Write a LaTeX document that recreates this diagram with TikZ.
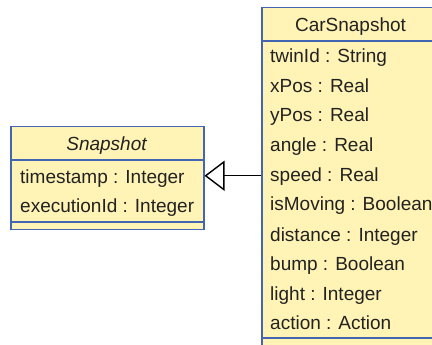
\documentclass[tikz,border=0pt]{standalone}
\usepackage{fontspec}
\setmainfont{Liberation Sans}
\usetikzlibrary{arrows.meta}
\definecolor{nenlop}{RGB}{255,243,181}
\definecolor{vienlop}{RGB}{68,102,178}
\definecolor{mauchu}{RGB}{34,34,34}
\begin{document}
\begin{tikzpicture}[
			% styles for the class boxes
			hop/.style={rectangle, draw=vienlop, fill=nenlop, line width=1.5pt, inner sep=0pt, anchor=north west}, % class box
			vach/.style={draw=vienlop, line width=1.5pt}, % compartment divider
			thuoctinh/.style={text=mauchu, anchor=base west, inner sep=0pt}, % attribute line
			tenlop/.style={text=mauchu, anchor=base, inner sep=0pt}, % class name
			kethua/.style={-{Triangle[open, length=20pt, width=30pt]}, line width=1.4pt} % generalization
			,x=1pt,y=-1pt,font=\fontsize{19}{22}\selectfont]
			\useasboundingbox (0,0) rectangle (432,345);
			\clip (0,0) rectangle (432,345);

			% the two classes
			\node[hop, minimum width=193pt, minimum height=103pt] (snap) at (10,126) {};
			\node[hop, minimum width=179pt, minimum height=380pt] (car) at (261,7) {};

			% compartments
			\draw[vach] (snap.west |- 0,160) -- (snap.east |- 0,160);
			\draw[vach] (snap.west |- 0,222) -- (snap.east |- 0,222);
			\draw[vach] (car.west |- 0,41) -- (car.east |- 0,41);
			\draw[vach] (car.west |- 0,338) -- (car.east |- 0,338);

			% Snapshot
			\node[tenlop, font=\fontsize{19}{22}\selectfont\itshape] (snapten) at (106.5,151) {Snapshot};
			\node[thuoctinh] (timestamp) at (20,183) {timestamp : Integer};
			\node[thuoctinh] (execid) at (20,212) {executionId : Integer};

			% CarSnapshot
			\node[tenlop] (carten) at (350.5,32) {CarSnapshot};
			\node[thuoctinh] (twinid) at (270,63) {twinId : String};
			\node[thuoctinh] (xpos) at (270,93) {xPos : Real};
			\node[thuoctinh] (ypos) at (270,122) {yPos : Real};
			\node[thuoctinh] (angle) at (270,152) {angle : Real};
			\node[thuoctinh] (speed) at (270,182) {speed : Real};
			\node[thuoctinh] (ismoving) at (270,211) {isMoving : Boolean};
			\node[thuoctinh] (distance) at (270,241) {distance : Integer};
			\node[thuoctinh] (bump) at (270,271) {bump : Boolean};
			\node[thuoctinh] (light) at (270,301) {light : Integer};
			\node[thuoctinh] (action) at (270,330) {action : Action};

			% CarSnapshot is a Snapshot
			\coordinate (dinh) at ([yshift=2.5pt]snap.east);
			\draw[kethua] (car.west |- dinh) -- (dinh);
		\end{tikzpicture}
\end{document}
